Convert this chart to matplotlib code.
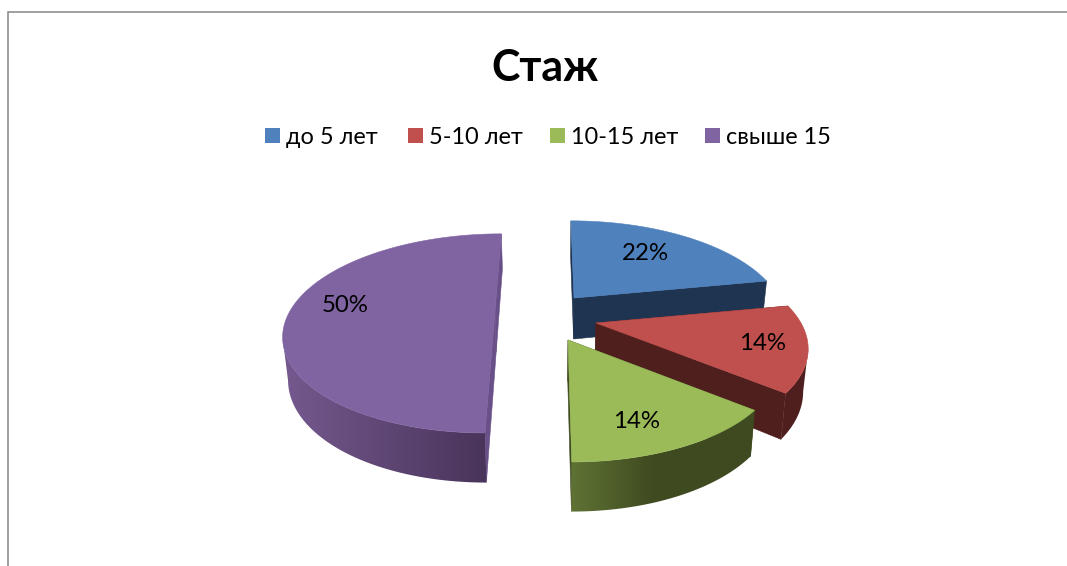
import numpy as np
import matplotlib
matplotlib.use("Agg")
import matplotlib.pyplot as plt
from matplotlib.patches import Polygon, Rectangle
from matplotlib.colors import to_rgb

title = "Стаж"
categories = ["до 5 лет", "5-10 лет", "10-15 лет", "свыше 15"]
shares = [22, 14, 14, 50]
labels = ["22%", "14%", "14%", "50%"]

top_colors = ["#4f81bd", "#c0504d", "#9bbb59", "#8064a2"]
wall_left = ["#1f3450", "#4f1f1e", "#5f7334", "#75598f"]
wall_right = ["#1f3450", "#4f1f1e", "#3f4a20", "#49345a"]
cut_colors = ["#1f3450", "#4f1f1e", "#3f4a20", "#6a5089"]
wall_mid = [1.0, 1.0, 0.45, 1.0]
apex = [(574, 298), (596, 323), (568, 340), (495, 311)]
label_pos = [(645, 254), (763, 344), (637, 422), (345, 306)]
legend_x = [265, 408, 550, 705]

RX, RY, P, X0, SHEAR, DEPTH, X_LOW = 205, 94.5, 0.225, 548, 0.65, 41, 555

plt.rcParams["font.family"] = ["Lato", "Open Sans", "DejaVu Sans"]
fig = plt.figure(figsize=(10.67, 5.66), dpi=100)
ax = fig.add_axes([0, 0, 1, 1])
ax.axis("off")


def project(a, th):
    """top face point for slice apex a, angle th clockwise from 12 o'clock"""
    u, v = np.sin(th), np.cos(th)
    k = 1 / (1 + P * v)
    x = a[0] + RX * u * k + SHEAR * (a[0] - X0) * (k - 1)
    y = a[1] - RY * v * k
    return x, y, k


def lower(p):
    x, y, k = p
    return X_LOW + (x - X_LOW) * 0.98, y + DEPTH * k ** 0.75


def wall(p, q, color, z):
    poly = [p[:2], q[:2], lower(q), lower(p)]
    ax.add_patch(Polygon(poly, closed=True, fc=color, ec=color, lw=0.4, zorder=z))


edges = np.radians(np.concatenate([[0], np.cumsum(shares)]) * 3.6)

for z, i in enumerate([3, 0, 1, 2]):
    base = z * 10 + 1
    a = apex[i]
    ths = np.linspace(edges[i], edges[i + 1], 240)
    arc = [project(a, t) for t in ths]
    low = [lower(p) for p in arc]
    center = (a[0], a[1], 1.0)
    # flat cut faces
    wall(arc[0], center, cut_colors[i], base)
    wall(center, arc[-1], cut_colors[i], base)
    # outer wall: only the part of the rim that faces the viewer
    xt = np.array([p[0] for p in arc])
    xl = np.array([p[0] for p in low])
    if i == 3:
        top_part = [p[:2] for p in arc[: int(np.argmin(xt)) + 1]]
        low_part = low[: int(np.argmin(xl)) + 1]
    else:
        top_part = [p[:2] for p in arc[int(np.argmax(xt)):]]
        low_part = low[int(np.argmax(xl)):]
    outline = np.array(top_part + low_part[::-1])
    x0, x1 = outline[:, 0].min(), outline[:, 0].max()
    y0, y1 = outline[:, 1].min(), outline[:, 1].max()
    f = np.clip(np.linspace(0, 1, 256) / wall_mid[i], 0, 1)[None, :, None]
    grad = (1 - f) * np.array(to_rgb(wall_left[i])) + f * np.array(to_rgb(wall_right[i]))
    clip = Polygon(outline, closed=True, transform=ax.transData)
    im = ax.imshow(grad, extent=(x0, x1, y1, y0), aspect="auto", zorder=base + 1, interpolation="bilinear")
    im.set_clip_path(clip)
    # top face
    pts = [center[:2]] + [p[:2] for p in arc]
    ax.add_patch(Polygon(pts, closed=True, fc=top_colors[i], ec=top_colors[i], lw=0.4, zorder=base + 2))
    ax.text(*label_pos[i], labels[i], fontsize=17.3, color="black", ha="center", va="center", zorder=60)

ax.text(545, 68, title, fontsize=31, fontweight="bold", color="black", ha="center", va="center")
for i, cat in enumerate(categories):
    ax.add_patch(Rectangle((legend_x[i], 128), 15, 15, fc=top_colors[i], ec="none"))
    ax.text(legend_x[i] + 21, 138, cat, fontsize=16.9, color="black", ha="left", va="center")

ax.plot([8, 8, 1067], [566, 12, 12], color="#868686", lw=1.1, solid_joinstyle="miter")
ax.set_xlim(0, 1067)
ax.set_ylim(566, 0)
fig.savefig("out.png", dpi=100)
